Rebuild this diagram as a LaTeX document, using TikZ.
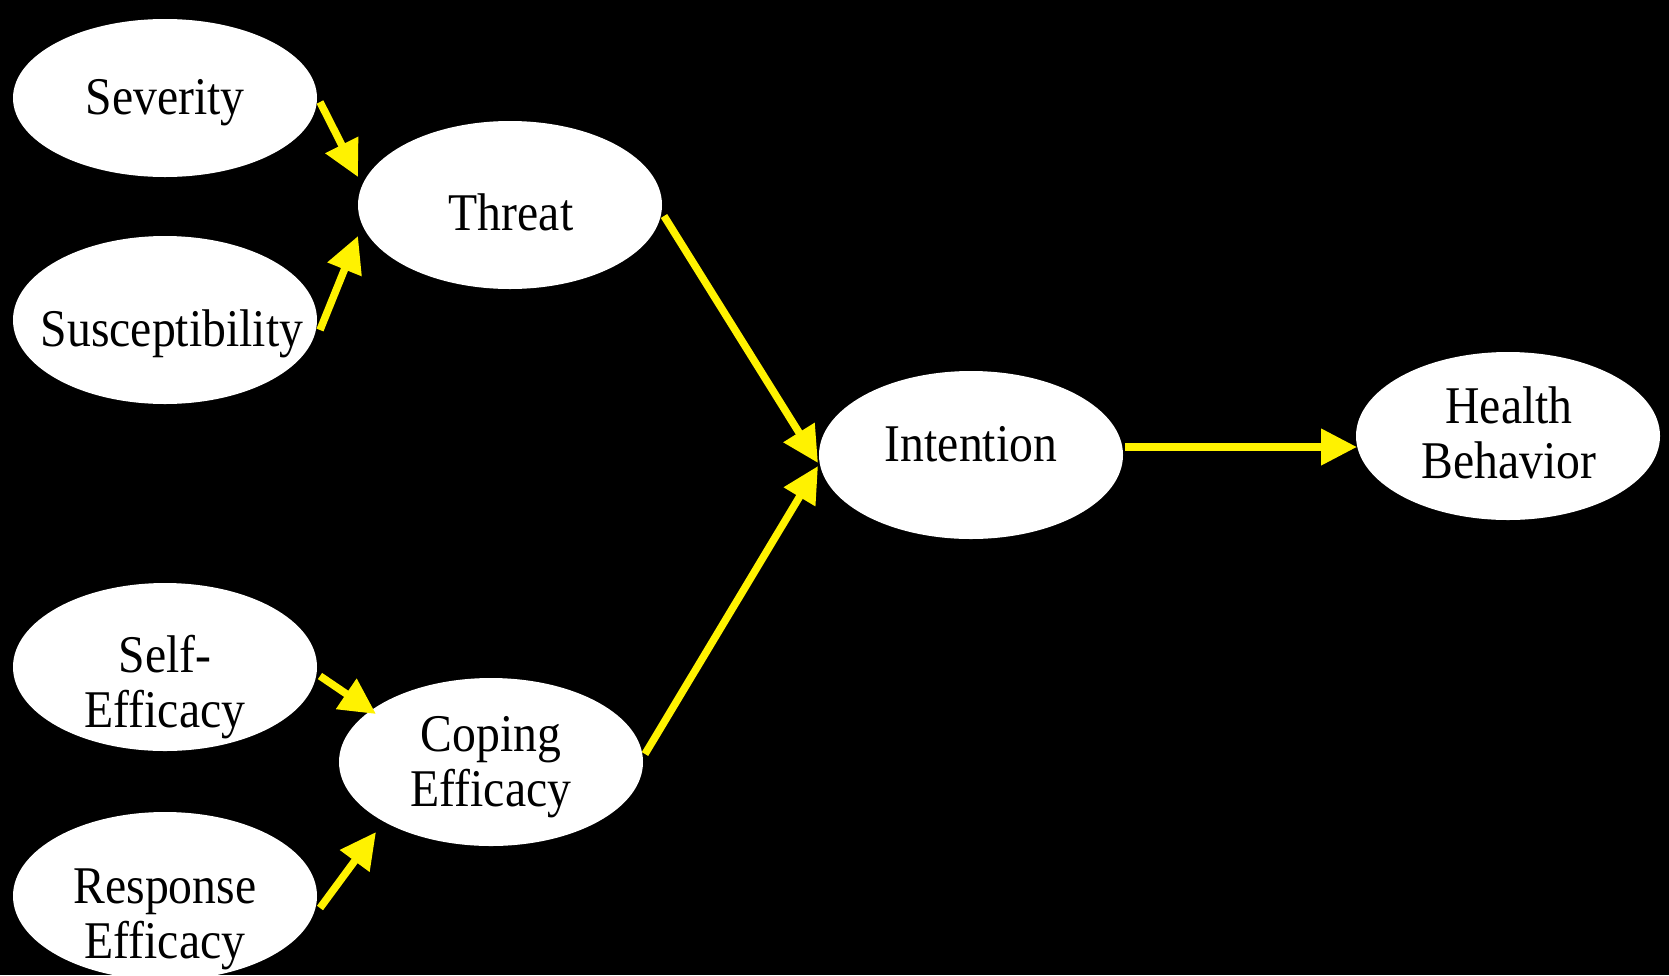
\documentclass[tikz,border=0pt]{standalone}
\usepackage{fontspec}
\setmainfont{Liberation Serif}[FakeStretch=0.9]
\usetikzlibrary{shapes.geometric,arrows.meta}
\begin{document}
\begin{tikzpicture}[x=1pt,y=-1pt,
  bubble/.style={ellipse, fill=white, draw=none, minimum width=304pt, minimum height=168pt, inner sep=0pt},
  lbl/.style={anchor=base, align=center, font=\fontsize{53}{55}\selectfont, text=black, inner sep=0pt},
  link/.style={draw=yellow, line width=7.5pt, -{Triangle[length=36pt,width=35pt]}}]
\useasboundingbox (0,0) rectangle (1669,975);
\clip (0,0) rectangle (1669,975);
\fill[black] (0,0) rectangle (1669,975);
% ellipses
\node[bubble, minimum height=158pt] (sev)  at (165,98)  {};
\node[bubble] (sus)  at (165,320) {};
\node[bubble] (thr)  at (510,205) {};
\node[bubble] (self) at (165,667) {};
\node[bubble] (resp) at (165,896) {};
\node[bubble] (cop)  at (491,762) {};
\node[bubble] (int)  at (971,455) {};
\node[bubble] (hb)   at (1508,436) {};
% labels (base = baseline of last line)
\node[lbl] (sevT)  at (165,114)  {Severity};
\node[lbl] (susT)  at (172,346)  {Susceptibility};
\node[lbl] (thrT)  at (511,230)  {Threat};
\node[lbl] (selfT) at (165,727)  {Self-\\Efficacy};
\node[lbl] (copT)  at (491,806)  {Coping\\Efficacy};
\node[lbl] (respT) at (165,958)  {Response\\Efficacy};
\node[lbl] (intT)  at (971,461)  {Intention};
\node[lbl] (hbT)   at (1509,478) {Health\\Behavior};
% connectors
\draw[link] ([shift={(155,4)}]sev.center)   -- ([shift={(-152,-28)}]thr.center);
\draw[link] ([shift={(155,10)}]sus.center)  -- ([shift={(-152,31)}]thr.center);
\draw[link] ([shift={(154,11)}]thr.center)  -- ([shift={(-153,8)}]int.center);
\draw[link] ([shift={(154,-8)}]cop.center)  -- ([shift={(-153,11)}]int.center);
\draw[link] ([shift={(154,-8)}]int.center)  -- ([shift={(-151,11)}]hb.center);
\draw[link] ([shift={(155,9)}]self.center)  -- ([shift={(-115,-48)}]cop.center);
\draw[link] ([shift={(155,12)}]resp.center) -- ([shift={(-115,70)}]cop.center);
\end{tikzpicture}
\end{document}
